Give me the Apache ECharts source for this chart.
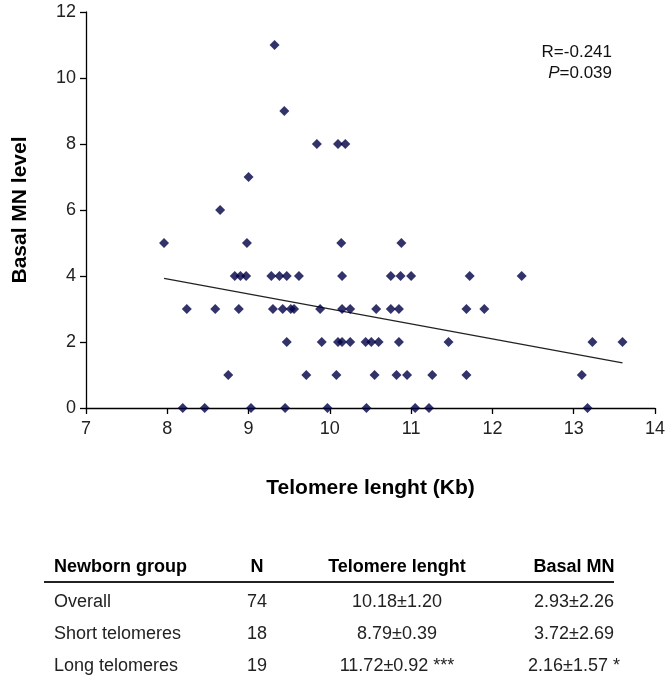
<!DOCTYPE html>
<html>
<head>
<meta charset="utf-8">
<script src="https://cdn.jsdelivr.net/npm/echarts@6/dist/echarts.min.js"></script>
<style>
html,body{margin:0;padding:0;background:#fff;}
#c{width:672px;height:686px;}
</style>
</head>
<body>
<div id="c"></div>
<script>
// ---- data ----
var mn0 = [8.19, 8.46, 9.03, 9.45, 9.97, 10.45, 11.05, 11.22, 13.17];
var mn1 = [8.75, 9.71, 10.08, 10.55, 10.82, 10.95, 11.26, 11.68, 13.10];
var mn2 = [9.47, 9.90, 10.10, 10.15, 10.25, 10.44, 10.51, 10.60, 10.85, 11.46, 13.23, 13.60];
var mn3 = [8.24, 8.59, 8.88, 9.30, 9.42, 9.52, 9.56, 9.88, 10.15, 10.25, 10.57, 10.75, 10.85, 11.68, 11.90];
var mn4 = [8.83, 8.90, 8.97, 9.28, 9.38, 9.47, 9.62, 10.15, 10.75, 10.87, 11.00, 11.72, 12.36];
var mn5 = [7.96, 8.98, 10.14, 10.88];
var mn6 = [8.65];
var mn7 = [9.00];
var mn8 = [9.84, 10.10, 10.19];
var mn9 = [9.44];
var mn11 = [9.32];
var trendX = [7.96, 13.60];
var trendY = [3.93, 1.37];
var xTicks = [7, 8, 9, 10, 11, 12, 13, 14];
var yTicks = [0, 2, 4, 6, 8, 10, 12];
var statR = 'R=-0.241';
var statP = '=0.039';
var tableHeader = ['Newborn group', 'N', 'Telomere lenght', 'Basal MN'];
var tableGroup = ['Overall', 'Short telomeres', 'Long telomeres'];
var tableN = ['74', '18', '19'];
var tableTel = ['10.18±1.20', '8.79±0.39', '11.72±0.92 ***'];
var tableMN = ['2.93±2.26', '3.72±2.69', '2.16±1.57 *'];

// ---- build ----
var levels = [[0, mn0], [1, mn1], [2, mn2], [3, mn3], [4, mn4], [5, mn5], [6, mn6], [7, mn7], [8, mn8], [9, mn9], [11, mn11]];
var pts = [];
levels.forEach(function (l) { l[1].forEach(function (x) { pts.push([x, l[0]]); }); });
var trend = trendX.map(function (x, i) { return [x, trendY[i]]; });

var FONT = '"Liberation Sans", Arial, sans-serif';

var graphics = [];
graphics.push({
  type: 'text', right: 60, top: 44,
  style: { text: statR, font: '17px ' + FONT, fill: '#111', textAlign: 'right' }
});
graphics.push({
  type: 'text', right: 60, top: 65,
  style: {
    text: '{i|P}{n|' + statP + '}',
    rich: { i: { fontStyle: 'italic', fontSize: 17, fontFamily: FONT, fill: '#111' }, n: { fontSize: 17, fontFamily: FONT, fill: '#111' } },
    textAlign: 'right'
  }
});
// table
var colX = [54, 257, 397, 574];
var colAlign = ['left', 'center', 'center', 'center'];
var headerY = 567, rowY = [602, 634, 666];
tableHeader.forEach(function (h, i) {
  graphics.push({ type: 'text', x: colX[i], y: headerY,
    style: { text: h, font: 'bold 18px ' + FONT, fill: '#000', textAlign: colAlign[i], textVerticalAlign: 'middle' } });
});
graphics.push({ type: 'line', shape: { x1: 44, y1: 582, x2: 614, y2: 582 }, style: { stroke: '#222', lineWidth: 2 } });
var cols = [tableGroup, tableN, tableTel, tableMN];
cols.forEach(function (col, i) {
  col.forEach(function (t, r) {
    graphics.push({ type: 'text', x: colX[i], y: rowY[r],
      style: { text: t, font: '18px ' + FONT, fill: '#222', textAlign: colAlign[i], textVerticalAlign: 'middle' } });
  });
});

var chart = echarts.init(document.getElementById('c'));
chart.setOption({
  animation: false,
  backgroundColor: '#fff',
  grid: { left: 86, right: 17, top: 12, bottom: 278, containLabel: false },
  xAxis: {
    type: 'value', min: xTicks[0], max: xTicks[xTicks.length - 1], interval: 1,
    name: 'Telomere lenght (Kb)', nameLocation: 'middle', nameGap: 70,
    nameTextStyle: { fontFamily: FONT, fontWeight: 'bold', fontSize: 21, color: '#000' },
    axisLine: { lineStyle: { color: '#000', width: 1.3 } },
    axisTick: { show: true, length: 6, lineStyle: { color: '#000', width: 1.3 } },
    axisLabel: { fontFamily: FONT, fontSize: 18, color: '#222', margin: 12 },
    splitLine: { show: false }
  },
  yAxis: {
    type: 'value', min: yTicks[0], max: yTicks[yTicks.length - 1], interval: 2,
    name: 'Basal MN level', nameLocation: 'middle', nameGap: 55,
    nameTextStyle: { fontFamily: FONT, fontWeight: 'bold', fontSize: 21, color: '#000' },
    axisLine: { show: true, lineStyle: { color: '#000', width: 1.3 } },
    axisTick: { show: true, length: 6, lineStyle: { color: '#000', width: 1.3 } },
    axisLabel: { fontFamily: FONT, fontSize: 18, color: '#222', margin: 10 },
    splitLine: { show: false }
  },
  series: [
    { type: 'line', data: trend, symbol: 'none', lineStyle: { color: '#222', width: 1.3 }, z: 1 },
    { type: 'scatter', data: pts, symbol: 'diamond', symbolSize: 10, itemStyle: { color: '#000046' }, z: 2 }
  ],
  graphic: graphics
});
</script>
</body>
</html>
